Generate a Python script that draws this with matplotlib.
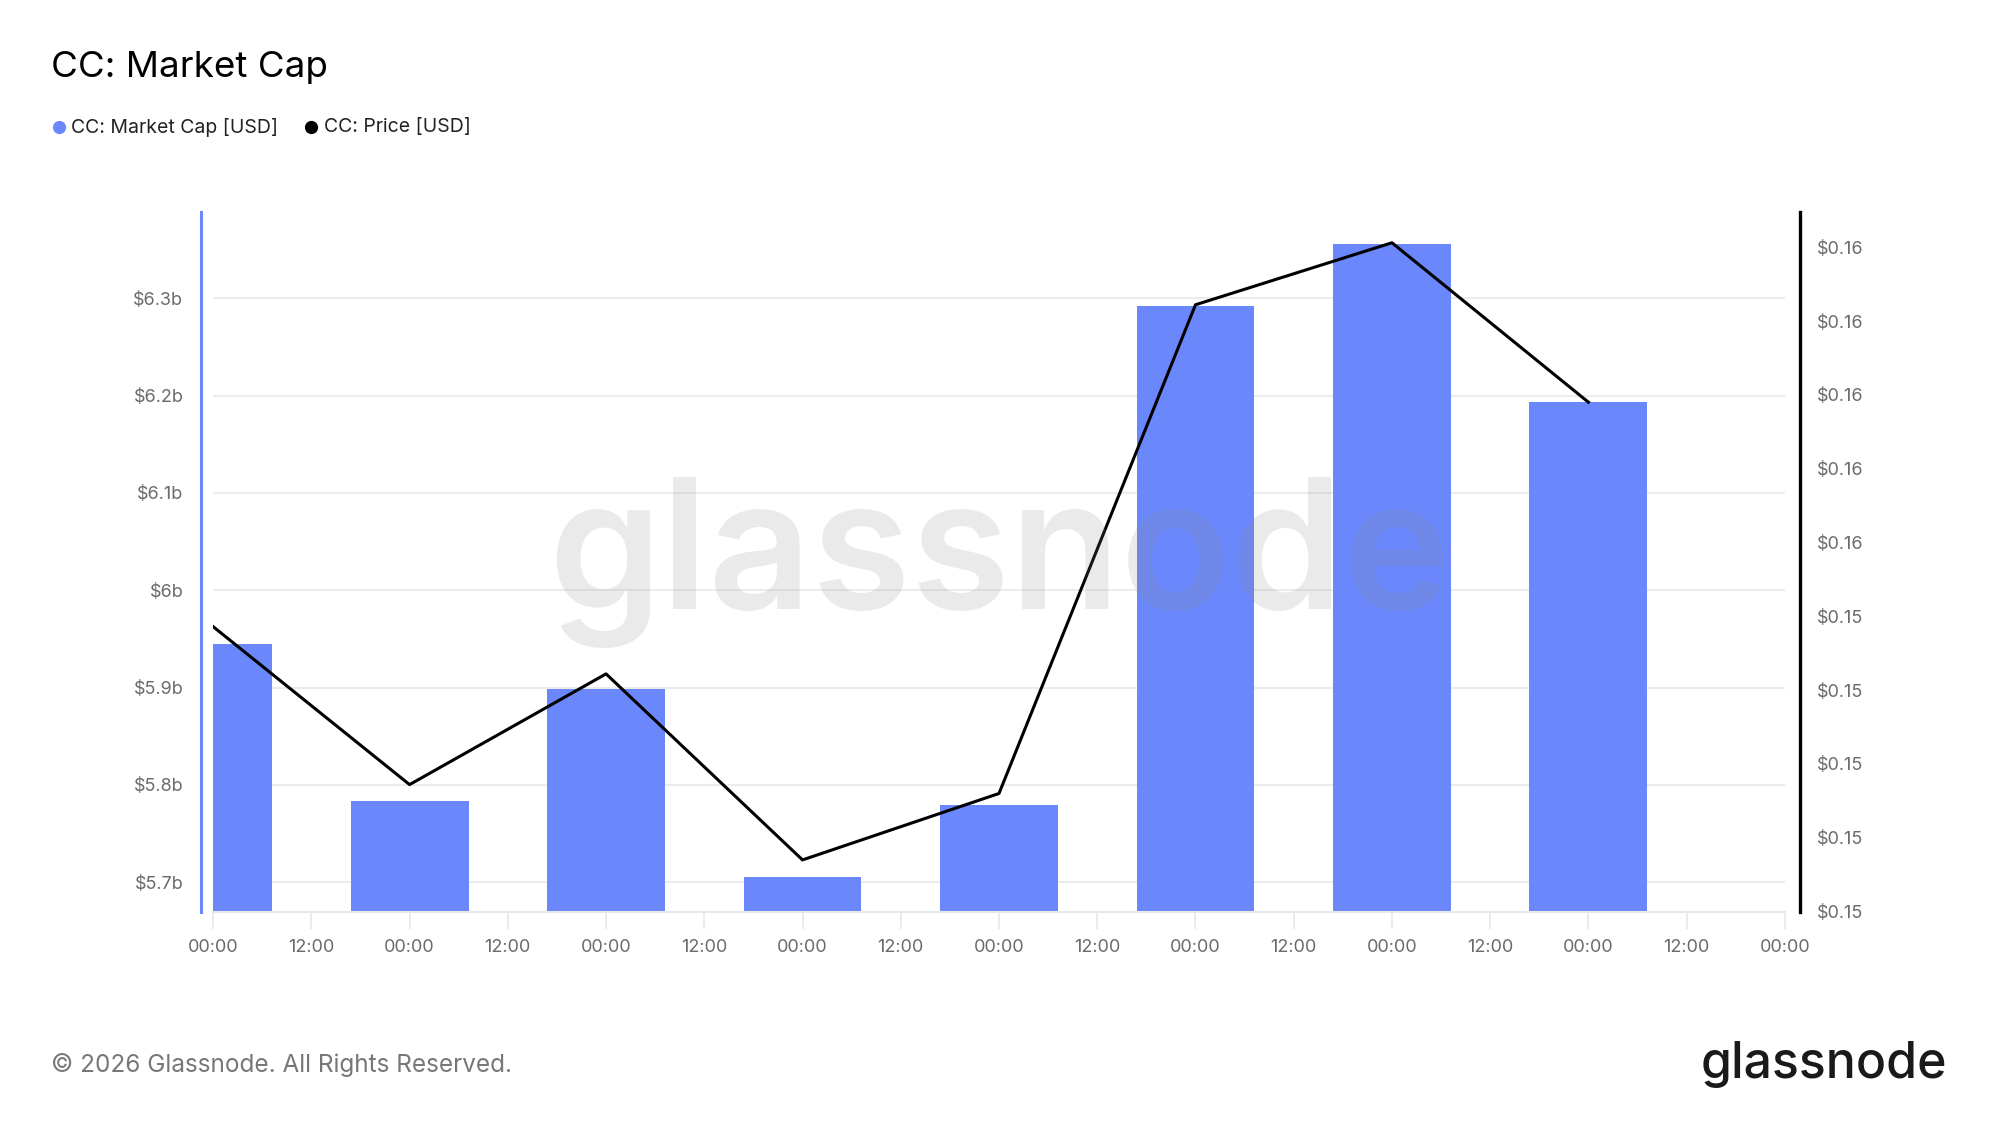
import numpy as np
import matplotlib
matplotlib.use("Agg")
import matplotlib.pyplot as plt
from matplotlib.lines import Line2D

plt.rcParams['font.family'] = ['Inter', 'DejaVu Sans']

# data (day index, 00:00 of each day)
days = [0, 1, 2, 3, 4, 5, 6, 7]
market_cap_b = [5.945, 5.784, 5.899, 5.705, 5.779, 6.292, 6.356, 6.193]
price_usd = [0.15443, 0.15336, 0.15411, 0.15285, 0.15330, 0.15661, 0.15703, 0.15595]

cap_ticks = [5.7, 5.8, 5.9, 6.0, 6.1, 6.2, 6.3]
cap_tick_labels = ['$5.7b', '$5.8b', '$5.9b', '$6b', '$6.1b', '$6.2b', '$6.3b']
price_ticks = [0.1525, 0.1530, 0.1535, 0.1540, 0.1545, 0.1550, 0.1555, 0.1560, 0.1565, 0.1570]
price_tick_labels = ['$0.15'] * 5 + ['$0.16'] * 5
x_tick_labels = ['00:00', '12:00'] * 8 + ['00:00']

BLUE = '#6a88fc'
GRAY_TXT = '#6b6b6b'
GRID = '#ececec'

fig = plt.figure(figsize=(19.99, 11.25), dpi=100)
ax = fig.add_axes([0.1066, 0.1897, 0.7863, 0.6222])

# bars (market cap)
ax.bar(days, market_cap_b, width=0.6, color=BLUE, zorder=2)
ax.set_xlim(0, 8)
ax.set_ylim(5.6699, 6.389)
ax.set_yticks(cap_ticks)
ax.set_yticklabels(cap_tick_labels)
ax.grid(axis='y', color=GRID, linewidth=1.5, zorder=0)
ax.set_axisbelow(True)

xt = np.arange(0, 8.01, 0.5)
ax.set_xticks(xt)
ax.set_xticklabels(x_tick_labels)

for s in ['top', 'right']:
    ax.spines[s].set_visible(False)
ax.spines['left'].set_position(('outward', 8.4))
ax.spines['left'].set_color(BLUE)
ax.spines['left'].set_linewidth(2.2)
ax.spines['bottom'].set_color('#e6e8eb')
ax.spines['bottom'].set_linewidth(1.5)

ax.tick_params(axis='y', length=0, pad=13, labelsize=13, labelcolor=GRAY_TXT)
ax.tick_params(axis='x', length=12, width=1.2, color='#e6e8eb', pad=8,
               labelsize=13, labelcolor=GRAY_TXT)

# price line on right axis
ax2 = ax.twinx()
ax2.plot(days, price_usd, color='black', linewidth=2.2, zorder=3)
ax2.set_ylim(0.1525, 0.157241)
ax2.set_yticks(price_ticks)
ax2.set_yticklabels(price_tick_labels)
for s in ['top', 'left', 'bottom']:
    ax2.spines[s].set_visible(False)
ax2.spines['right'].set_position(('outward', 10.8))
ax2.spines['right'].set_color('black')
ax2.spines['right'].set_linewidth(2.4)
ax2.tick_params(axis='y', length=0, pad=12, labelsize=13, labelcolor=GRAY_TXT)

# title and legend
fig.text(0.0255, 0.94, 'CC: Market Cap', fontsize=26.5, color='black', va='center', ha='left')
fig.add_artist(Line2D([0.0295], [0.8867], marker='o', markersize=8.5, color=BLUE,
                      linestyle='none', transform=fig.transFigure))
fig.text(0.0357, 0.8867, 'CC: Market Cap [USD]', fontsize=14, color='#222222',
         va='center', ha='left')
fig.add_artist(Line2D([0.1557], [0.8867], marker='o', markersize=8.5, color='black',
                      linestyle='none', transform=fig.transFigure))
fig.text(0.162, 0.8867, 'CC: Price [USD]', fontsize=14, color='#222222',
         va='center', ha='left')

# watermark
fig.text(0.5, 0.50, 'glassnode', fontsize=130, fontweight='semibold', color='#888888',
         alpha=0.17, ha='center', va='center', zorder=10)

# footer
fig.text(0.0255, 0.0537, '\u00a9 2026 Glassnode. All Rights Reserved.', fontsize=17.5,
         color='#777777', ha='left', va='center')
fig.text(0.974, 0.0537, 'glassnode', fontsize=36, fontweight='medium', color='#1a1a1a',
         ha='right', va='center')

fig.savefig('out.png', dpi=100)
